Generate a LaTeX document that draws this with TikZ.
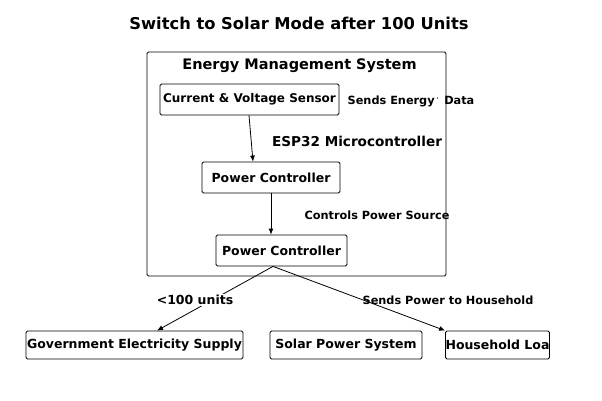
\documentclass[tikz,border=0pt]{standalone}
\usepackage{fontspec}
\setmainfont{DejaVu Sans}
\usetikzlibrary{arrows.meta}

\begin{document}
\begin{tikzpicture}[x=1pt,y=-1pt]
  \tikzset{unit box/.style={draw,rounded corners=1.5pt,line width=0.8pt,minimum width=#1,minimum height=31pt,inner sep=0pt,font=\bfseries\fontsize{12.5}{14}\selectfont},
    flow/.style={-{Latex[length=6pt,width=5pt]},line width=0.8pt},
    note/.style={font=\bfseries\fontsize{#1}{#1}\selectfont,inner sep=1pt}}
  \useasboundingbox (0,0) rectangle (602,401);

  \node [note=16.3] (title) at (299,23) {Switch to Solar Mode after 100 Units};

  \node [draw,rounded corners=1.5pt,line width=0.8pt,minimum width=299pt,minimum height=224pt] (ems) at (296.5,164) {};
  \node [note=14.5] (emsname) at (299.5,66) {Energy Management System};

  \node [unit box=179pt,font=\bfseries\fontsize{12}{14}\selectfont] (sensor) at (249.5,99.5) {Current \& Voltage Sensor};
  \node [note=11.3] (sendsdata) at (411,101) {Sends Energy\,{\fontsize{5}{5}\selectfont\raisebox{3pt}{'}}\, Data};
  \node [note=13.6] (esp) at (357,141) {ESP32 Microcontroller};
  \node [unit box=138pt] (pc1) at (271,177.5) {Power Controller};
  \node [note=11.3] (ctrl) at (377,215) {Controls Power Source};
  \node [unit box=131pt] (pc2) at (281.5,250.5) {Power Controller};

  \node [unit box=217pt,minimum height=28pt] (gov) at (134.5,345) {Government Electricity Supply};
  \node [unit box=152pt,minimum height=28pt] (solar) at (346,345) {Solar Power System};
  \node [unit box=103pt,minimum height=28pt] (load) at (497.5,345) {Household Loa};

  \draw [flow] ([xshift=-0.5pt]sensor.south) -- ([xshift=-18pt]pc1.north);
  \draw [flow] (pc1.south) -- (pc1.south |- pc2.north);

  \coordinate (split) at ([xshift=-8.5pt]pc2.south);
  \draw [flow] (split) -- ([xshift=22.5pt]gov.north);
  \draw [flow] (split) -- (load.north west);

  \node [note=12.5,fill=white] (under) at (195,300) {<100 units};
  \node [note=11.3] (sendspower) at (448,300) {Sends Power to Household};
\end{tikzpicture}
\end{document}
